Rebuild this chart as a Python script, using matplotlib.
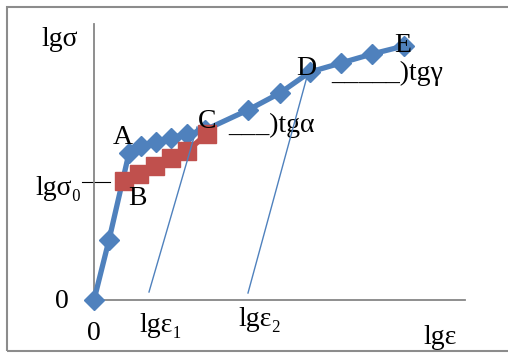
import matplotlib
matplotlib.use("Agg")
import matplotlib.pyplot as plt
from matplotlib.patches import Rectangle

plt.rcParams['font.family'] = ['Liberation Serif', 'DejaVu Serif']

# curve lg(sigma) vs lg(eps)
lg_eps = [0, 0.15, 0.35, 0.47, 0.62, 0.77, 0.93, 1.11, 1.54, 1.86, 2.16, 2.47, 2.78, 3.10]
lg_sig = [0, 0.60, 1.47, 1.54, 1.58, 1.62, 1.66, 1.70, 1.90, 2.07, 2.28, 2.37, 2.46, 2.54]

# B -> C segment
bc_eps = [0.30, 0.45, 0.61, 0.77, 0.93, 1.13]
bc_sig = [1.19, 1.26, 1.34, 1.42, 1.49, 1.66]

# tangent lines
tan1_x = [0.55, 1.03]
tan1_y = [0.08, 1.73]
tan2_x = [1.54, 2.14]
tan2_y = [0.07, 2.27]

blue = "#4F81BD"
red = "#C0504D"
grey = "#868686"

fig = plt.figure(figsize=(5.08, 3.53), dpi=100)
fig.patches.append(Rectangle((7/508, 2/353), 1.2, 344/353, transform=fig.transFigure,
                             fill=False, edgecolor="#8c8c8c", linewidth=1.5))

ax = fig.add_axes([94/508, 53/353, 371/508, 276/353])
ax.set_xlim(0, 3.71)
ax.set_ylim(0, 2.76)
for s in ["top", "right"]:
    ax.spines[s].set_visible(False)
for s in ["left", "bottom"]:
    ax.spines[s].set_color(grey)
    ax.spines[s].set_linewidth(1.3)
ax.set_xticks([])
ax.set_yticks([])

ax.plot(lg_eps, lg_sig, color=blue, lw=3.8, marker="D", ms=10.5, mfc=blue, mec=blue,
        clip_on=False, zorder=3)
ax.plot(bc_eps, bc_sig, color=red, lw=4, marker="s", ms=13, mfc=red, mec=red,
        clip_on=False, zorder=4)
ax.plot(tan1_x, tan1_y, color=blue, lw=1, zorder=5)
ax.plot(tan2_x, tan2_y, color=blue, lw=1, zorder=5)
ax.plot([-0.12, 0.16], [1.18, 1.18], color="black", lw=0.8, clip_on=False, zorder=2)

fs = 20
kw = dict(fontsize=fs, ha="center", va="center", clip_on=False, zorder=6)
ax.text(-0.34, 2.60, "lgσ", **kw)
ax.text(0.29, 1.62, "A", **kw)
ax.text(0.43, 1.01, "B", **kw)
ax.text(1.13, 1.78, "C", **kw)
ax.text(2.12, 2.31, "D", **kw)
ax.text(3.09, 2.54, "E", **kw)
ax.text(-0.32, -0.01, "0", **kw)
ax.text(0, -0.34, "0", **kw)
ax.text(0.67, -0.25, "lgε₁", **kw)
ax.text(1.66, -0.20, "lgε₂", **kw)
ax.text(3.46, -0.37, "lgε", **kw)
ax.text(-0.12, 1.11, "lgσ₀", fontsize=fs, ha="right", va="center", clip_on=False)
ax.text(1.34, 1.75, "___)tgα", fontsize=fs, ha="left", va="center", clip_on=False)
ax.text(2.37, 2.27, "_____)tgγ", fontsize=fs, ha="left", va="center", clip_on=False)

fig.savefig("out.png", dpi=100)
